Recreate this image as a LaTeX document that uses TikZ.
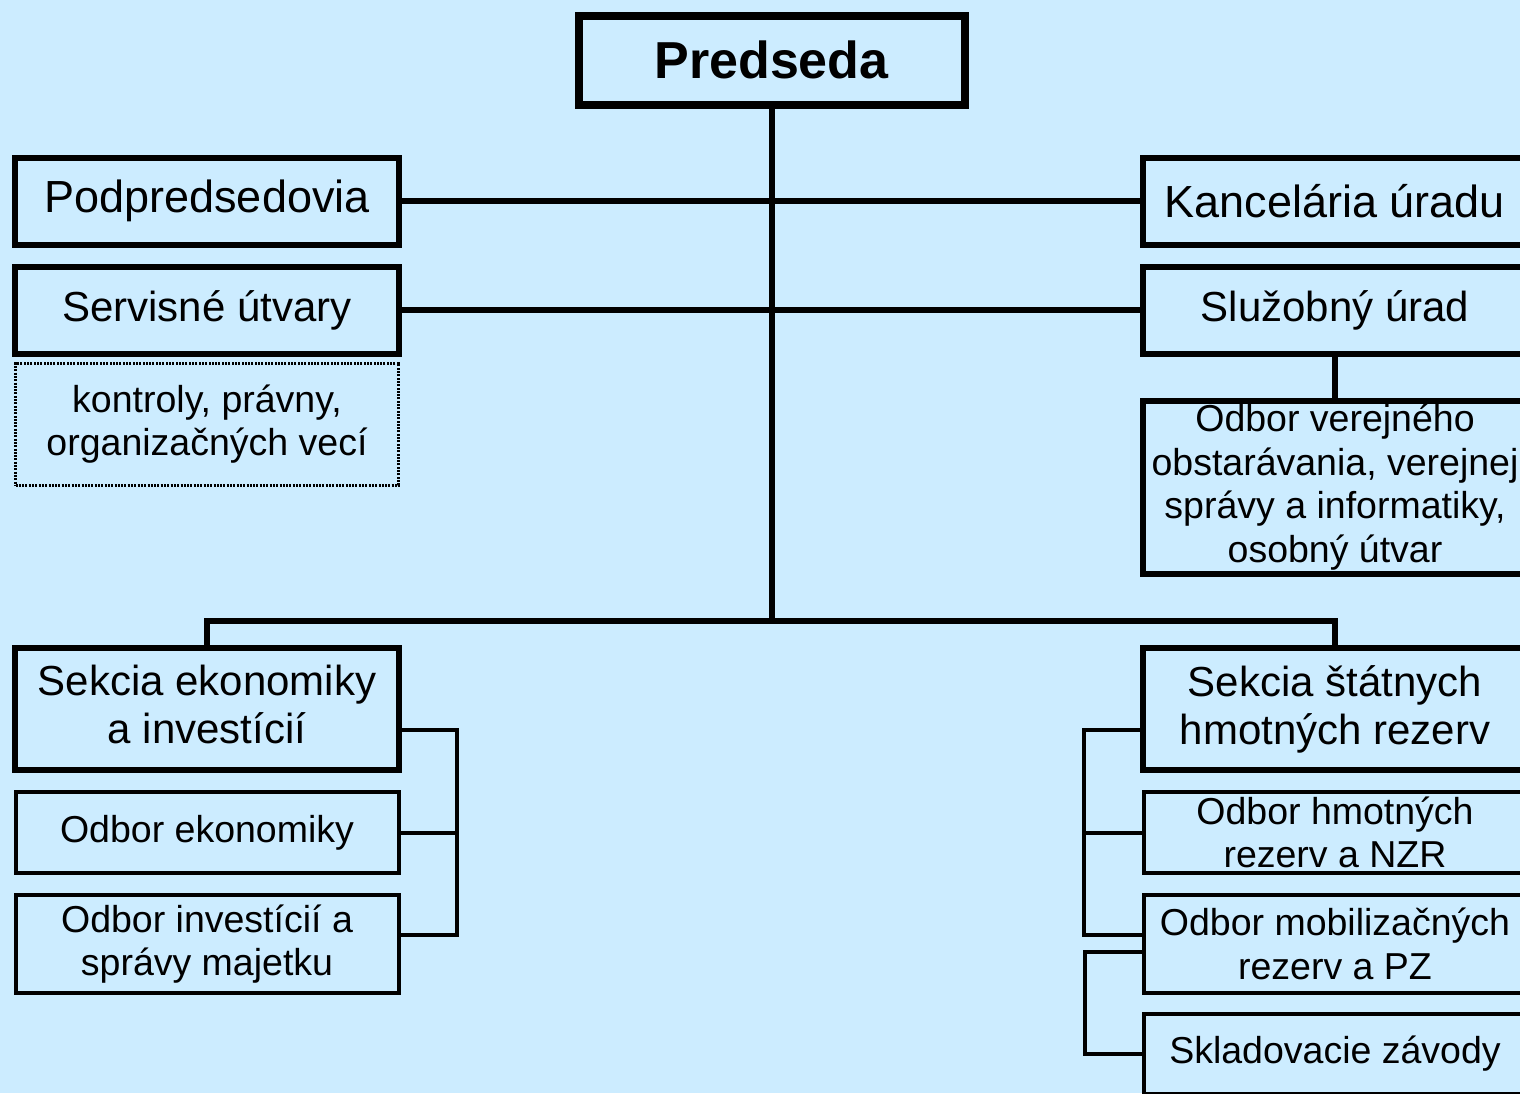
\documentclass[tikz,border=0pt]{standalone}
\usepackage{fontspec}
\setmainfont{Liberation Sans}
\usetikzlibrary{positioning}
\definecolor{orgbg}{RGB}{204,236,255}
\tikzset{
    head/.style = {draw, rectangle, line width=8pt,
        minimum width=386pt, minimum height=89pt, inner sep=0pt,
        font=\fontsize{52}{60}\selectfont\bfseries},
    unit/.style = {draw, rectangle, line width=6pt,
        minimum width=384pt, minimum height=87pt, inner sep=0pt,
        align=center, font=\fontsize{45}{52}\selectfont},
    service/.style = {unit, font=\fontsize{42}{48}\selectfont},
    sekcia/.style = {unit, minimum height=122pt,
        font=\fontsize{42}{48}\selectfont},
    dept/.style = {draw, rectangle, line width=4pt,
        minimum width=383pt, inner sep=0pt,
        align=center, font=\fontsize{37.5}{43.5}\selectfont},
    note/.style = {dept, line width=3pt, dash pattern=on 2pt off 1.3pt},
    link/.style = {line width=6pt},
    branch/.style = {line width=4pt},
}
\begin{document}
\begin{tikzpicture}[x=1pt, y=-1pt, node distance=16pt]
	% page
	\fill [orgbg] (0,0) rectangle (1520,1093);
	\useasboundingbox (0,0) rectangle (1520,1093);
	\clip (0,0) rectangle (1520,1093);

	% chairman
	\node [head, name=predseda] at (771.5,60) {Predseda};

	% left column
	\node [unit, name=podpred] at (207,201) {Podpredsedovia};
	\node [service, below=of podpred, name=servis] {Servisné útvary};
	\node [note, minimum height=122pt, below=5pt of servis, name=kontroly] {kontroly, právny,\\organizačných vecí};

	% right column
	\node [unit, name=kancel] at (1335,201) {Kancelária úradu};
	\node [service, below=of kancel, name=sluzob] {Služobný úrad};
	\node [unit, minimum height=173pt, font=\fontsize{37.5}{43.5}\selectfont,
		below=41pt of sluzob, name=obstar] {Odbor verejného\\obstarávania, verejnej\\správy a informatiky,\\osobný útvar};

	% economy section
	\node [sekcia, name=sekE] at (207,709) {Sekcia ekonomiky\\a investícií\vphantom{y}};
	\node [dept, minimum height=81pt, below=17pt of sekE, name=odbEko] {Odbor ekonomiky};
	\node [dept, minimum height=98pt, below=18pt of odbEko, name=odbInv] {Odbor investícií a\\správy majetku};

	% reserves section
	\node [sekcia, name=sekS] at (1335,709) {Sekcia štátnych\\hmotných rezerv};
	\node [dept, minimum height=81pt, below=17pt of sekS, name=odbHmot] {Odbor hmotných\\rezerv a NZR};
	\node [dept, minimum height=98pt, below=18pt of odbHmot, name=odbMob] {Odbor mobilizačných\\rezerv a PZ};
	\node [dept, minimum height=80pt, below=17pt of odbMob, name=sklad] {Skladovacie závody};

	%%lines
	\coordinate (bus) at (771.5,621);
	\draw [link] (predseda) -- (bus);
	\draw [link] (podpred) -- (kancel);
	\draw [link] (servis) -- (sluzob);
	\draw [link] (sluzob) -- (obstar);
	\draw [link] (sekE.north) |- (bus) -| (sekS.north);

	% left bracket
	\draw [branch] ([yshift=-21pt]sekE.east) -- ++(55,0) |- ([yshift=9pt]odbInv.east);
	\draw [branch] (odbEko.east) -- ++(56,0);

	% right brackets
	\draw [branch] ([yshift=-21pt]sekS.west) -- ++(-56,0) |- ([yshift=9pt]odbMob.west);
	\draw [branch] (odbHmot.west) -- ++(-57,0);
	\draw [branch] ([yshift=-8pt]odbMob.west) -- ++(-57,0) |- (sklad.west);
\end{tikzpicture}
\end{document}
